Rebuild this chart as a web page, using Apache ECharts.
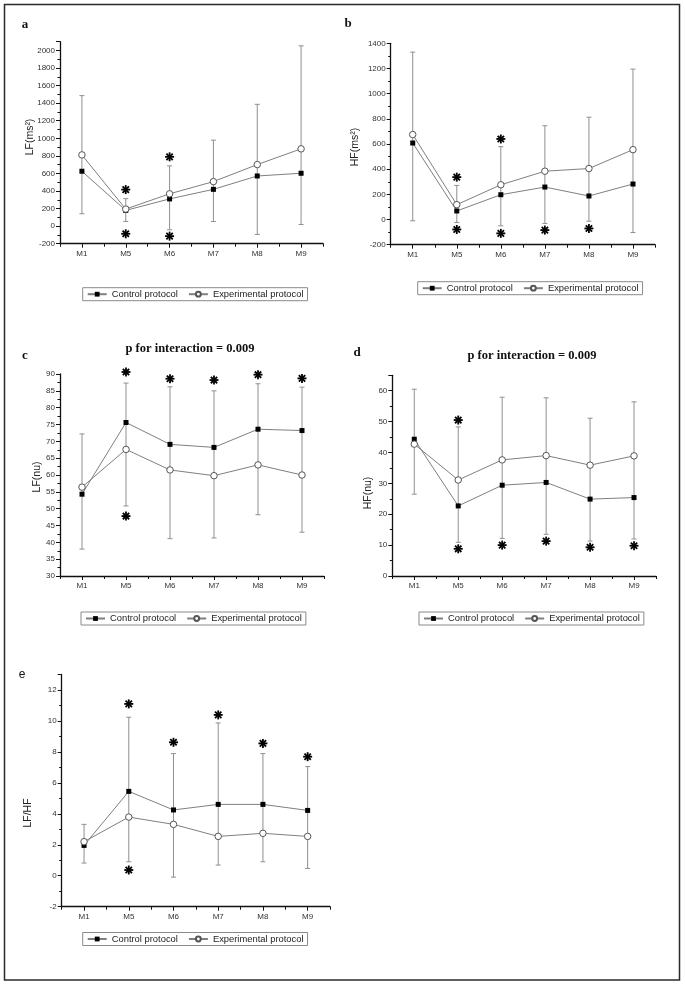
<!DOCTYPE html>
<html><head><meta charset="utf-8">
<script src="https://cdn.jsdelivr.net/npm/echarts@6/dist/echarts.min.js"></script>
<style>html,body{margin:0;padding:0;background:#fff}#c{width:685px;height:987px}</style>
</head><body><div id="c"></div>
<script>
// ---------------- DATA ----------------
const categories = ['M1', 'M5', 'M6', 'M7', 'M8', 'M9'];
const seriesNames = ['Control protocol', 'Experimental protocol'];

// a: LF (ms²)
const aControl = [625, 179, 310, 419, 571, 602];
const aExperimental = [811, 194, 368, 507, 701, 880];
const aErrLow = [141, 54, -41, 53, -95, 19];
const aErrHigh = [1486, 313, 686, 979, 1387, 2053];
const aStars = [['M5', 416], ['M5', -87], ['M6', 789], ['M6', -114]];

// b: HF (ms²)
const bControl = [608, 68, 197, 258, 187, 282];
const bExperimental = [675, 118, 276, 384, 405, 555];
const bErrLow = [-10, -24, -50, -32, -13, -103];
const bErrHigh = [1330, 271, 579, 745, 813, 1195];
const bStars = [['M5', 337], ['M5', -79], ['M6', 640], ['M6', -110], ['M7', -84], ['M8', -71]];

// c: LF (nu)
const cControl = [54.3, 75.6, 69.1, 68.2, 73.6, 73.2];
const cExperimental = [56.4, 67.6, 61.5, 59.8, 63.0, 60.0];
const cErrLow = [38.0, 50.8, 41.1, 41.3, 48.2, 43.0];
const cErrHigh = [72.2, 87.3, 86.2, 85.0, 87.1, 86.1];
const cStars = [['M5', 90.6], ['M5', 47.8], ['M6', 88.6], ['M7', 88.2], ['M8', 89.8], ['M9', 88.7]];

// d: HF (nu)
const dControl = [44.3, 22.7, 29.4, 30.3, 24.9, 25.4];
const dExperimental = [42.7, 31.1, 37.6, 39.0, 35.9, 38.9];
const dErrLow = [26.5, 10.9, 12.2, 13.5, 11.3, 12.0];
const dErrHigh = [60.5, 48.3, 57.9, 57.7, 51.1, 56.4];
const dStars = [['M5', 50.5], ['M5', 8.8], ['M6', 10.0], ['M7', 11.3], ['M8', 9.3], ['M9', 9.8]];

// e: LF/HF
const eControl = [1.96, 5.45, 4.25, 4.61, 4.61, 4.22];
const eExperimental = [2.2, 3.79, 3.32, 2.54, 2.74, 2.54];
const eErrLow = [0.82, 0.9, -0.09, 0.69, 0.9, 0.47];
const eErrHigh = [3.32, 10.24, 7.89, 9.87, 7.89, 7.05];
const eStars = [['M5', 11.1], ['M5', 0.37], ['M6', 8.62], ['M7', 10.39], ['M8', 8.55], ['M9', 7.69]];

const titleText = 'p for interaction = 0.009';

// ---------------- LAYOUT ----------------
const panels = [
  { letter: 'a', yName: 'LF(ms²)', ctrl: aControl, exp: aExperimental, lo: aErrLow, hi: aErrHigh, stars: aStars,
    axis: { min: -200, max: 2100, interval: 200 },
    grid: { left: 60, top: 41.7, width: 263, height: 202 },
    legend: { left: 82.7, top: 287.7 }, namePos: [30, 137], letterPos: [25, 25], title: null },
  { letter: 'b', yName: 'HF(ms²)', ctrl: bControl, exp: bExperimental, lo: bErrLow, hi: bErrHigh, stars: bStars,
    axis: { min: -200, max: 1400, interval: 200 },
    grid: { left: 390.7, top: 43.3, width: 264.3, height: 201.4 },
    legend: { left: 417.7, top: 281.7 }, namePos: [355, 147], letterPos: [348, 24], title: null },
  { letter: 'c', yName: 'LF(nu)', ctrl: cControl, exp: cExperimental, lo: cErrLow, hi: cErrHigh, stars: cStars,
    axis: { min: 30, max: 90, interval: 5 },
    grid: { left: 60, top: 374, width: 264, height: 202 },
    legend: { left: 81, top: 612 }, namePos: [37, 477], letterPos: [25, 356], title: [190, 349] },
  { letter: 'd', yName: 'HF(nu)', ctrl: dControl, exp: dExperimental, lo: dErrLow, hi: dErrHigh, stars: dStars,
    axis: { min: 0, max: 65, interval: 10 },
    grid: { left: 392.3, top: 375.3, width: 263.7, height: 200.7 },
    legend: { left: 419, top: 612 }, namePos: [368, 493], letterPos: [357, 353], title: [532, 356.5] },
  { letter: 'e', yName: 'LF/HF', ctrl: eControl, exp: eExperimental, lo: eErrLow, hi: eErrHigh, stars: eStars,
    axis: { min: -2, max: 13, interval: 2 },
    grid: { left: 61.7, top: 674.5, width: 268.3, height: 232.2 },
    legend: { left: 82.7, top: 932.5 }, namePos: [28, 813], letterPos: [22, 675], title: null }
];

const AXIS_COLOR = '#111';
const LINE_COLOR = '#7f7f7f';
const ERR_COLOR = '#8f8f8f';
const LABEL_FONT = 'Liberation Sans, Arial, sans-serif';
const SERIF = 'Liberation Serif, Times New Roman, serif';

function errRender(params, api) {
  const x = api.value(0);
  const lo = api.coord([x, api.value(1)]);
  const hi = api.coord([x, api.value(2)]);
  const w = 2.5;
  const st = { stroke: ERR_COLOR, lineWidth: 1 };
  return { type: 'group', children: [
    { type: 'line', shape: { x1: lo[0], y1: lo[1], x2: hi[0], y2: hi[1] }, style: st },
    { type: 'line', shape: { x1: lo[0] - w, y1: lo[1], x2: lo[0] + w, y2: lo[1] }, style: st },
    { type: 'line', shape: { x1: hi[0] - w, y1: hi[1], x2: hi[0] + w, y2: hi[1] }, style: st }
  ] };
}

function starRender(params, api) {
  const p = api.coord([api.value(0), api.value(1)]);
  const r = 4.5;
  const st = { stroke: '#000', lineWidth: 1.8 };
  const children = [];
  [0, 45, 90, 135].forEach(function (deg) {
    const a = deg * Math.PI / 180;
    const dx = Math.cos(a) * r, dy = Math.sin(a) * r;
    children.push({ type: 'line', shape: { x1: p[0] - dx, y1: p[1] - dy, x2: p[0] + dx, y2: p[1] + dy }, style: st });
  });
  return { type: 'group', children: children };
}

const grid = [], xAxis = [], yAxis = [], series = [], legend = [], title = [], graphic = [];

panels.forEach(function (p, gi) {
  grid.push(Object.assign({ containLabel: false }, p.grid));
  // main category axis with ticks at band boundaries
  xAxis.push({
    gridIndex: gi, type: 'category', data: categories, boundaryGap: true,
    axisLine: { onZero: false, lineStyle: { color: AXIS_COLOR, width: 1.3 } },
    axisTick: { show: true, length: 3, lineStyle: { color: AXIS_COLOR } },
    axisLabel: { color: '#333', fontSize: 8, fontFamily: LABEL_FONT, margin: 6 },
    splitLine: { show: false }
  });
  // secondary axis: ticks at category centres
  xAxis.push({
    gridIndex: gi, type: 'category', data: categories, boundaryGap: true, position: 'bottom',
    axisLine: { show: false, onZero: false },
    axisTick: { show: true, alignWithLabel: true, length: 4, lineStyle: { color: AXIS_COLOR } },
    axisLabel: { show: false }, splitLine: { show: false }
  });
  yAxis.push({
    gridIndex: gi, type: 'value', min: p.axis.min, max: p.axis.max, interval: p.axis.interval,
    axisLine: { show: true, onZero: false, lineStyle: { color: AXIS_COLOR, width: 1.3 } },
    axisTick: { show: true, length: 4, lineStyle: { color: AXIS_COLOR } },
    minorTick: { show: true, splitNumber: 2, length: 2.5, lineStyle: { color: AXIS_COLOR } },
    axisLabel: { color: '#333', fontSize: 8, fontFamily: LABEL_FONT, margin: 5,
      showMaxLabel: ((p.axis.max - p.axis.min) % p.axis.interval === 0),
      formatter: function (v) { return String(Math.round(v * 100) / 100); } },
    splitLine: { show: false }
  });
  const xi = gi * 2;
  series.push({
    name: 'err' + gi, type: 'custom', xAxisIndex: xi, yAxisIndex: gi, z: 1, clip: false,
    renderItem: errRender, encode: { x: 0, y: [1, 2] },
    data: categories.map(function (c, i) { return [i, p.lo[i], p.hi[i]]; }),
    silent: true
  });
  series.push({
    name: seriesNames[0], type: 'line', xAxisIndex: xi, yAxisIndex: gi, z: 3,
    data: p.ctrl, symbol: 'rect', symbolSize: 5,
    lineStyle: { color: LINE_COLOR, width: 1 },
    itemStyle: { color: '#000', borderColor: '#000', borderWidth: 0 },
    emphasis: { disabled: true }
  });
  series.push({
    name: seriesNames[1], type: 'line', xAxisIndex: xi, yAxisIndex: gi, z: 4,
    data: p.exp, symbol: 'circle', symbolSize: 6.5, showAllSymbol: true,
    lineStyle: { color: LINE_COLOR, width: 1 },
    itemStyle: { color: '#fff', borderColor: '#555', borderWidth: 1 },
    emphasis: { disabled: true }
  });
  series.push({
    name: 'stars' + gi, type: 'custom', xAxisIndex: xi, yAxisIndex: gi, z: 5, clip: false,
    renderItem: starRender, encode: { x: 0, y: 1 },
    data: p.stars.map(function (s) { return [categories.indexOf(s[0]), s[1]]; }),
    silent: true
  });
  legend.push({
    data: seriesNames, left: p.legend.left, top: p.legend.top, orient: 'horizontal',
    selectedMode: false, borderColor: '#8a8a8a', borderWidth: 1, borderRadius: 0,
    padding: [2, 4, 2, 4], itemGap: 10, itemWidth: 19, itemHeight: 6,
    textStyle: { fontSize: 9.4, fontFamily: LABEL_FONT, color: '#222' }
  });
  if (p.title) {
    title.push({ text: titleText, left: p.title[0], top: p.title[1] - 7, textAlign: 'center', padding: 0,
      textStyle: { fontFamily: SERIF, fontWeight: 'bold', fontSize: 12.5, color: '#111' } });
  }
  graphic.push({ type: 'text', x: p.letterPos[0], y: p.letterPos[1], silent: true,
    style: { text: p.letter, font: (p.letter === 'e' ? 'normal 12px ' + LABEL_FONT : 'bold 13px ' + SERIF), fill: '#111',
      textAlign: 'center', textVerticalAlign: 'middle', align: 'center', verticalAlign: 'middle' } });
  graphic.push({ type: 'text', x: p.namePos[0], y: p.namePos[1], rotation: Math.PI / 2, silent: true,
    style: { text: p.yName, font: 'normal 10.5px ' + LABEL_FONT, fill: '#222',
      textAlign: 'center', textVerticalAlign: 'middle', align: 'center', verticalAlign: 'middle' } });
});

graphic.push({ type: 'rect', silent: true, z: -1,
  shape: { x: 4.5, y: 4.5, width: 675, height: 975.5 },
  style: { fill: null, stroke: '#2a2a2a', lineWidth: 1.5 } });

const chart = echarts.init(document.getElementById('c'), null, { renderer: 'canvas' });
chart.setOption({
  backgroundColor: '#fff',
  animation: false,
  title: title, grid: grid, xAxis: xAxis, yAxis: yAxis, legend: legend, series: series, graphic: graphic
});
</script></body></html>
